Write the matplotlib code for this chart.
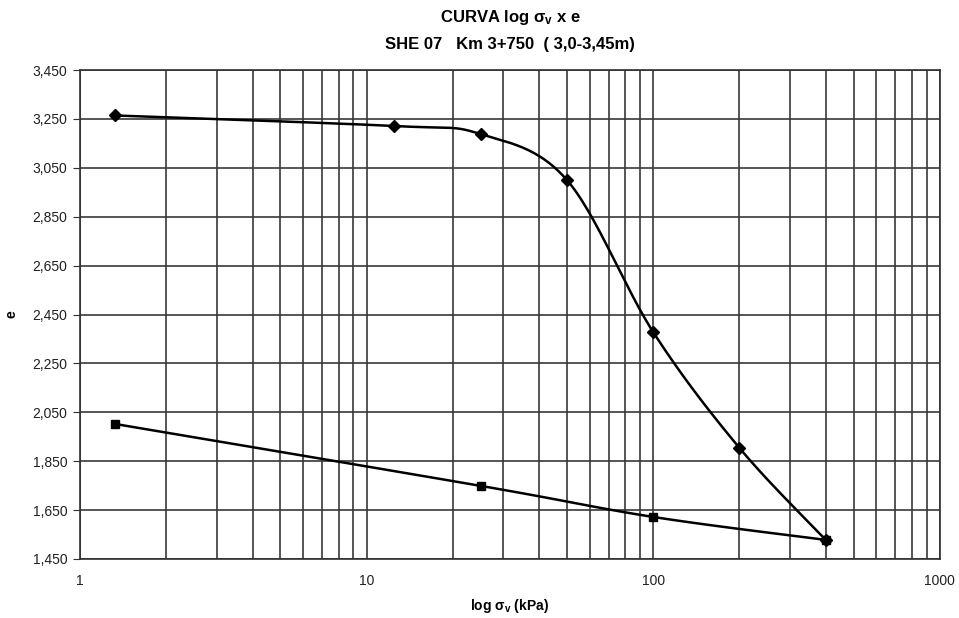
import numpy as np
import matplotlib
matplotlib.use("Agg")
import matplotlib.pyplot as plt
from matplotlib.ticker import FixedLocator, FuncFormatter, LogLocator, NullFormatter

plt.rcParams['font.family'] = ['Liberation Sans', 'DejaVu Sans']
plt.rcParams['mathtext.fontset'] = 'custom'
plt.rcParams['mathtext.rm'] = 'Liberation Sans:bold'
plt.rcParams['mathtext.it'] = 'Liberation Sans:bold'
plt.rcParams['mathtext.bf'] = 'Liberation Sans:bold'

# loading branch (diamonds)
load_p = [1.33, 12.5, 25, 50, 100, 200, 400]
load_e = [3.264, 3.221, 3.188, 3.000, 2.378, 1.904, 1.528]
# unloading branch (squares)
unload_p = [400, 100, 25, 1.33]
unload_e = [1.528, 1.622, 1.749, 2.002]

y_ticks = [1.45, 1.65, 1.85, 2.05, 2.25, 2.45, 2.65, 2.85, 3.05, 3.25, 3.45]
x_ticks = [1, 10, 100, 1000]


def smooth(px, py, n=30):
    # catmull-rom through the points, in log-x space (like excel smoothed lines)
    lx = np.log10(px)
    py = np.asarray(py, float)
    P = np.column_stack([lx, py])
    P = np.vstack([P[0], P, P[-1]])
    out = []
    t = np.linspace(0, 1, n)[:, None]
    for i in range(1, len(P) - 2):
        p0, p1, p2, p3 = P[i - 1], P[i], P[i + 1], P[i + 2]
        c = 0.5 * ((2 * p1) + (-p0 + p2) * t + (2 * p0 - 5 * p1 + 4 * p2 - p3) * t ** 2
                   + (-p0 + 3 * p1 - 3 * p2 + p3) * t ** 3)
        out.append(c)
    c = np.vstack(out)
    return 10 ** c[:, 0], c[:, 1]


fig = plt.figure(figsize=(9.59, 6.18), dpi=100)
ax = fig.add_axes([0.0834, 0.0955, 0.8966, 0.7912])

sx, sy = smooth(load_p, load_e)
ax.plot(sx, sy, color='black', lw=1.8, zorder=3)
ax.plot(load_p, load_e, 'D', color='black', ms=6, zorder=4)

sx, sy = smooth(unload_p, unload_e)
ax.plot(sx, sy, color='black', lw=1.8, zorder=3)
ax.plot(unload_p, unload_e, 's', color='black', ms=6, zorder=4)

ax.set_xscale('log')
ax.set_xlim(1, 1000)
ax.set_ylim(1.45, 3.45)
ax.xaxis.set_major_locator(FixedLocator(x_ticks))
ax.xaxis.set_minor_locator(LogLocator(base=10, subs=np.arange(2, 10)))
ax.xaxis.set_minor_formatter(NullFormatter())
ax.xaxis.set_major_formatter(FuncFormatter(lambda v, p: f"{v:g}"))
ax.yaxis.set_major_locator(FixedLocator(y_ticks))
ax.yaxis.set_major_formatter(FuncFormatter(lambda v, p: f"{v:.3f}".replace('.', ',')))

ax.grid(True, which='major', color='#383838', lw=1.2)
ax.grid(True, which='minor', axis='x', color='#383838', lw=1.2)
ax.tick_params(axis='y', which='major', length=5, direction='out', labelsize=10, pad=4,
               colors='#303030', labelcolor='#202020')
ax.tick_params(axis='x', which='both', length=0, labelsize=10, pad=11, labelcolor='#202020')
for s in ax.spines.values():
    s.set_color('#303030')
    s.set_linewidth(1.2)

ax.set_xlabel(r'log $\sigma_\mathrm{v}$ (kPa)', fontsize=10, fontweight='bold', labelpad=6)
ax.set_ylabel('e', fontsize=10, fontweight='bold', labelpad=10)
fig.text(0.532, 0.971, r'CURVA log $\sigma_\mathrm{v}$ x e', ha='center', va='center',
         fontsize=12, fontweight='bold')
fig.text(0.532, 0.928, 'SHE 07   Km 3+750  ( 3,0-3,45m)', ha='center', va='center',
         fontsize=12, fontweight='bold')

fig.savefig('out.png', dpi=100)
